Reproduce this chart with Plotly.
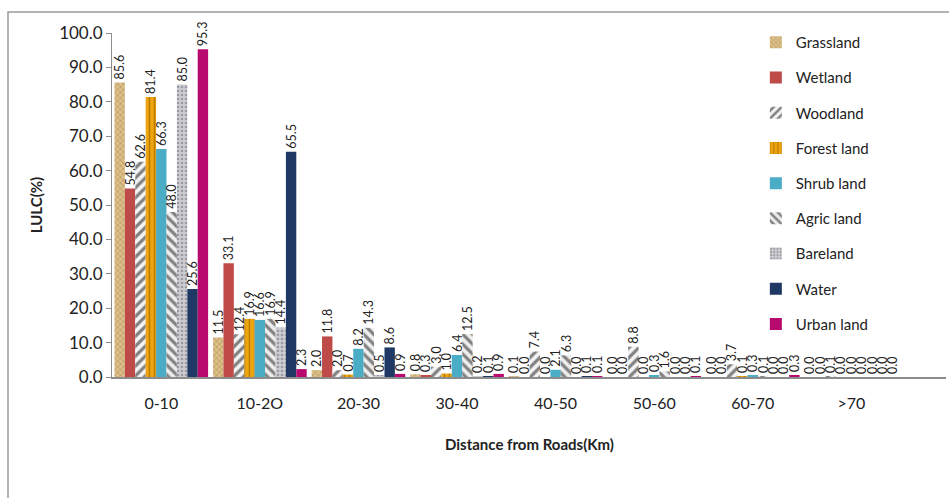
import plotly.graph_objects as go

categories = ["0-10", "10-2O", "20-30", "30-40", "40-50", "50-60", "60-70", ">70"]
series_names = ["Grassland", "Wetland", "Woodland", "Forest land", "Shrub land",
                "Agric land", "Bareland", "Water", "Urban land"]

grassland = [85.6, 11.5, 2.0, 0.8, 0.1, 0.0, 0.0, 0.0]
wetland = [54.8, 33.1, 11.8, 0.3, 0.0, 0.0, 0.0, 0.0]
woodland = [62.6, 12.4, 2.0, 3.0, 7.4, 8.8, 3.7, 0.1]
forest_land = [81.4, 16.9, 0.7, 1.0, 0.0, 0.0, 0.1, 0.0]
shrub_land = [66.3, 16.6, 8.2, 6.4, 2.1, 0.3, 0.3, 0.0]
agric_land = [48.0, 16.9, 14.3, 12.5, 6.3, 1.6, 0.1, 0.0]
bareland = [85.0, 14.4, 0.5, 0.2, 0.0, 0.0, 0.0, 0.0]
water = [25.6, 65.5, 8.6, 0.1, 0.1, 0.0, 0.0, 0.0]
urban_land = [95.3, 2.3, 0.9, 0.9, 0.1, 0.1, 0.3, 0.0]

values = [grassland, wetland, woodland, forest_land, shrub_land,
          agric_land, bareland, water, urban_land]

# styles: (solid colour, pattern shape, pattern fg, pattern bg, size, solidity)
styles = [
    ("#d4b275", "x", "#b08a50", "#dcc08a", 4, 0.25),
    ("#be4b48", "", None, None, 0, 0),
    ("#ffffff", "/", "#7f7f7f", "#f4f4f4", 7, 0.45),
    ("#e8a317", "|", "#b97a00", "#eea510", 5, 0.3),
    ("#4bacc6", "", None, None, 0, 0),
    ("#ffffff", "\\", "#808080", "#eeeeee", 7, 0.45),
    ("#c4c4c8", ".", "#9a9aa2", "#cdcdd2", 4, 0.35),
    ("#1f3864", "", None, None, 0, 0),
    ("#b80a6e", "", None, None, 0, 0),
]

fig = go.Figure()
for name, vals, (col, shape, fg, bg, sz, sol) in zip(series_names, values, styles):
    marker = dict(color=col, line=dict(width=0))
    if shape:
        marker["pattern"] = dict(shape=shape, fgcolor=fg, bgcolor=bg,
                                 size=sz, solidity=sol, fillmode="replace")
    fig.add_trace(go.Bar(
        name=name, x=categories, y=vals, marker=marker,
        text=[f"{v:.1f}" for v in vals], textposition="outside",
        textangle=-90, constraintext="none", cliponaxis=False,
        textfont=dict(size=12.5, color="#222222", family="Lato"),
        legendgroup=name,
    ))

fig.update_layout(
    width=949, height=498,
    margin=dict(l=112, r=3, t=33, b=121),
    paper_bgcolor="white", plot_bgcolor="white",
    barmode="group", bargap=0.05, bargroupgap=0,
    font=dict(family="Lato", color="#333333"),
    showlegend=True,
    legend=dict(x=0.772, y=1.02, xanchor="left", yanchor="top",
                font=dict(size=15, color="#222222"), maxheight=480,
                tracegroupgap=12.7, bgcolor="rgba(0,0,0,0)"),
    xaxis=dict(range=[-0.5, 7.96], showline=True, linecolor="#8c8c8c",
               linewidth=1.5, ticks="", tickfont=dict(size=16, color="#222222"),
               ticklabelstandoff=11),
    yaxis=dict(range=[0, 100], dtick=10, tickformat=".1f", showgrid=False,
               zeroline=False, showline=True, linecolor="#8c8c8c", linewidth=1,
               ticks="outside", ticklen=5, tickcolor="#8c8c8c",
               tickfont=dict(size=17, color="#222222"),
               title=dict(text="<b>LULC(%)</b>", font=dict(size=15, color="#222222"),
                          standoff=12)),
    annotations=[dict(text="<b>Distance from Roads(Km)</b>", xref="paper", yref="paper",
                      x=0.5, y=(377 - 444) / 344, xanchor="center", yanchor="middle",
                      showarrow=False, font=dict(size=15, color="#222222"))],
    shapes=[dict(type="rect", xref="paper", yref="paper",
                 x0=(8 - 112) / 834, x1=1.2, y0=-1.0, y1=(377 - 12) / 344,
                 line=dict(color="#9a9a9a", width=1.5), layer="below")],
)

fig.write_html("out.html")
